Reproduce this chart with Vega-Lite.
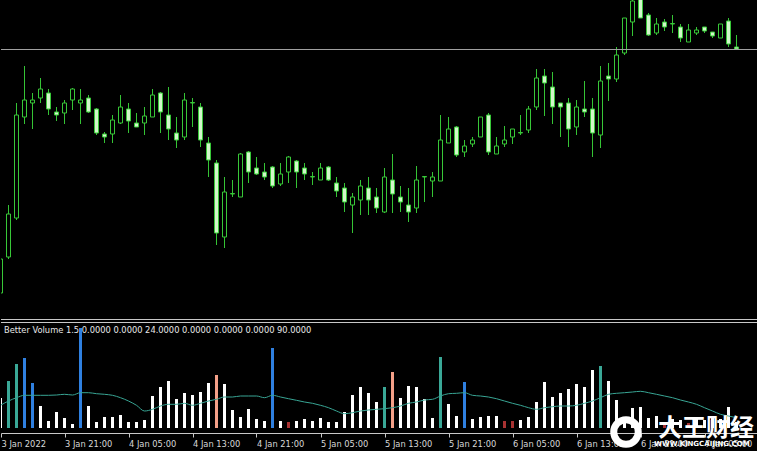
{
  "$schema": "https://vega.github.io/schema/vega-lite/v6.json",
  "background": "#000000",
  "padding": 0,
  "spacing": 1,
  "config": {"view": {"stroke": null}, "axisY": {"disable": true}, "scale": {"continuousPadding": 0}},
  "data": {"values": [
      {"t":"2022-01-03T13:00:00Z","o":27,"h":65,"l":24,"c":61,"v":30,"ma":22.7,"k":"w"},
      {"t":"2022-01-03T14:00:00Z","o":63,"h":115,"l":61,"c":106,"v":47,"ma":27,"k":"t"},
      {"t":"2022-01-03T15:00:00Z","o":102,"h":217,"l":100,"c":205,"v":64,"ma":30.3,"k":"t"},
      {"t":"2022-01-03T16:00:00Z","o":203,"h":254,"l":196,"c":220,"v":70,"ma":32.7,"k":"b"},
      {"t":"2022-01-03T17:00:00Z","o":217,"h":227,"l":191,"c":220,"v":45,"ma":32.7,"k":"b"},
      {"t":"2022-01-03T18:00:00Z","o":222,"h":242,"l":217,"c":231,"v":22,"ma":32.7,"k":"w"},
      {"t":"2022-01-03T19:00:00Z","o":227,"h":231,"l":205,"c":211,"v":7,"ma":32.7,"k":"w"},
      {"t":"2022-01-03T20:00:00Z","o":208,"h":213,"l":199,"c":205,"v":16,"ma":33,"k":"w"},
      {"t":"2022-01-03T21:00:00Z","o":207,"h":220,"l":196,"c":217,"v":10,"ma":33.7,"k":"w"},
      {"t":"2022-01-03T22:00:00Z","o":220,"h":232,"l":210,"c":231,"v":4,"ma":33,"k":"w"},
      {"t":"2022-01-03T23:00:00Z","o":217,"h":231,"l":196,"c":220,"v":100,"ma":35.3,"k":"b"},
      {"t":"2022-01-04T00:00:00Z","o":222,"h":225,"l":207,"c":208,"v":22,"ma":35.3,"k":"w"},
      {"t":"2022-01-04T01:00:00Z","o":211,"h":212,"l":185,"c":187,"v":6,"ma":34.3,"k":"w"},
      {"t":"2022-01-04T02:00:00Z","o":186,"h":188,"l":177,"c":183,"v":11,"ma":33.7,"k":"w"},
      {"t":"2022-01-04T03:00:00Z","o":186,"h":205,"l":177,"c":200,"v":11,"ma":32.7,"k":"w"},
      {"t":"2022-01-04T04:00:00Z","o":197,"h":225,"l":196,"c":213,"v":13,"ma":30.3,"k":"w"},
      {"t":"2022-01-04T05:00:00Z","o":211,"h":217,"l":187,"c":199,"v":6,"ma":27,"k":"w"},
      {"t":"2022-01-04T06:00:00Z","o":197,"h":207,"l":193,"c":193,"v":6,"ma":22.7,"k":"w"},
      {"t":"2022-01-04T07:00:00Z","o":197,"h":213,"l":185,"c":204,"v":8,"ma":17,"k":"w"},
      {"t":"2022-01-04T08:00:00Z","o":203,"h":231,"l":203,"c":225,"v":32,"ma":18.7,"k":"w"},
      {"t":"2022-01-04T09:00:00Z","o":227,"h":228,"l":187,"c":208,"v":41,"ma":22,"k":"w"},
      {"t":"2022-01-04T10:00:00Z","o":205,"h":233,"l":180,"c":191,"v":47,"ma":23.7,"k":"w"},
      {"t":"2022-01-04T11:00:00Z","o":187,"h":203,"l":172,"c":180,"v":29,"ma":23.7,"k":"w"},
      {"t":"2022-01-04T12:00:00Z","o":183,"h":227,"l":180,"c":220,"v":35,"ma":24.7,"k":"w"},
      {"t":"2022-01-04T13:00:00Z","o":217,"h":222,"l":193,"c":217.5,"v":33,"ma":22.7,"k":"w"},
      {"t":"2022-01-04T14:00:00Z","o":213,"h":217,"l":173,"c":180,"v":36,"ma":24.7,"k":"w"},
      {"t":"2022-01-04T15:00:00Z","o":177,"h":183,"l":143,"c":160,"v":45,"ma":27,"k":"w"},
      {"t":"2022-01-04T16:00:00Z","o":157,"h":160,"l":75,"c":87,"v":53,"ma":28.7,"k":"s"},
      {"t":"2022-01-04T17:00:00Z","o":83,"h":143,"l":72,"c":128,"v":44,"ma":31,"k":"w"},
      {"t":"2022-01-04T18:00:00Z","o":126,"h":140,"l":123,"c":126.5,"v":18,"ma":31,"k":"w"},
      {"t":"2022-01-04T19:00:00Z","o":123,"h":167,"l":123,"c":166,"v":11,"ma":32,"k":"w"},
      {"t":"2022-01-04T20:00:00Z","o":168,"h":169,"l":137,"c":148,"v":19,"ma":32,"k":"w"},
      {"t":"2022-01-04T21:00:00Z","o":152,"h":163,"l":145,"c":146,"v":9,"ma":32,"k":"w"},
      {"t":"2022-01-04T22:00:00Z","o":148,"h":157,"l":140,"c":143,"v":7,"ma":30.3,"k":"w"},
      {"t":"2022-01-04T23:00:00Z","o":153,"h":154,"l":132,"c":134,"v":80,"ma":32.7,"k":"b"},
      {"t":"2022-01-05T00:00:00Z","o":136,"h":157,"l":134,"c":146,"v":7,"ma":31,"k":"w"},
      {"t":"2022-01-05T01:00:00Z","o":148,"h":164,"l":137,"c":163,"v":6,"ma":29.3,"k":"r"},
      {"t":"2022-01-05T02:00:00Z","o":159,"h":160,"l":132,"c":148,"v":7,"ma":27.7,"k":"w"},
      {"t":"2022-01-05T03:00:00Z","o":152,"h":157,"l":140,"c":146,"v":9,"ma":26,"k":"w"},
      {"t":"2022-01-05T04:00:00Z","o":143,"h":148,"l":135,"c":143.5,"v":7,"ma":24.7,"k":"w"},
      {"t":"2022-01-05T05:00:00Z","o":140,"h":157,"l":140,"c":152,"v":10,"ma":22.7,"k":"w"},
      {"t":"2022-01-05T06:00:00Z","o":153,"h":154,"l":139,"c":140,"v":6,"ma":20.3,"k":"w"},
      {"t":"2022-01-05T07:00:00Z","o":137,"h":143,"l":123,"c":129,"v":6,"ma":17,"k":"w"},
      {"t":"2022-01-05T08:00:00Z","o":132,"h":137,"l":108,"c":118,"v":16,"ma":14.3,"k":"w"},
      {"t":"2022-01-05T09:00:00Z","o":115,"h":127,"l":87,"c":123,"v":33,"ma":15.3,"k":"w"},
      {"t":"2022-01-05T10:00:00Z","o":120,"h":140,"l":105,"c":134,"v":41,"ma":17,"k":"w"},
      {"t":"2022-01-05T11:00:00Z","o":132,"h":143,"l":105,"c":120,"v":35,"ma":18,"k":"w"},
      {"t":"2022-01-05T12:00:00Z","o":123,"h":132,"l":107,"c":112,"v":26,"ma":18.7,"k":"w"},
      {"t":"2022-01-05T13:00:00Z","o":108,"h":152,"l":107,"c":143,"v":41,"ma":19.3,"k":"t"},
      {"t":"2022-01-05T14:00:00Z","o":140,"h":166,"l":107,"c":126,"v":56,"ma":20.3,"k":"s"},
      {"t":"2022-01-05T15:00:00Z","o":123,"h":134,"l":108,"c":118,"v":30,"ma":22,"k":"w"},
      {"t":"2022-01-05T16:00:00Z","o":115,"h":132,"l":98,"c":108,"v":42,"ma":24.7,"k":"w"},
      {"t":"2022-01-05T17:00:00Z","o":112,"h":154,"l":107,"c":140,"v":41,"ma":26,"k":"w"},
      {"t":"2022-01-05T18:00:00Z","o":143,"h":143.5,"l":118,"c":143.5,"v":29,"ma":28,"k":"w"},
      {"t":"2022-01-05T19:00:00Z","o":139,"h":148,"l":123,"c":143,"v":10,"ma":28.7,"k":"w"},
      {"t":"2022-01-05T20:00:00Z","o":139,"h":205,"l":139,"c":180,"v":71,"ma":32,"k":"t"},
      {"t":"2022-01-05T21:00:00Z","o":177,"h":203,"l":177,"c":191,"v":24,"ma":34.3,"k":"w"},
      {"t":"2022-01-05T22:00:00Z","o":193,"h":194,"l":163,"c":165,"v":12,"ma":34.7,"k":"w"},
      {"t":"2022-01-05T23:00:00Z","o":168,"h":180,"l":163,"c":174,"v":46,"ma":35.3,"k":"b"},
      {"t":"2022-01-06T00:00:00Z","o":176,"h":183,"l":173,"c":180,"v":9,"ma":32.7,"k":"w"},
      {"t":"2022-01-06T01:00:00Z","o":183,"h":203,"l":183,"c":203,"v":11,"ma":32,"k":"w"},
      {"t":"2022-01-06T02:00:00Z","o":205,"h":207,"l":165,"c":168,"v":12,"ma":31,"k":"w"},
      {"t":"2022-01-06T03:00:00Z","o":166,"h":183,"l":166,"c":174,"v":12,"ma":29.3,"k":"w"},
      {"t":"2022-01-06T04:00:00Z","o":176,"h":194,"l":173,"c":180,"v":7,"ma":27,"k":"r"},
      {"t":"2022-01-06T05:00:00Z","o":183,"h":191,"l":176,"c":191,"v":7,"ma":24.7,"k":"r"},
      {"t":"2022-01-06T06:00:00Z","o":187,"h":205,"l":185,"c":187.5,"v":8,"ma":22.7,"k":"w"},
      {"t":"2022-01-06T07:00:00Z","o":190,"h":214,"l":187,"c":211,"v":11,"ma":20.3,"k":"w"},
      {"t":"2022-01-06T08:00:00Z","o":213,"h":251,"l":210,"c":242,"v":26,"ma":18.7,"k":"w"},
      {"t":"2022-01-06T09:00:00Z","o":244,"h":251,"l":204,"c":237,"v":46,"ma":20.3,"k":"w"},
      {"t":"2022-01-06T10:00:00Z","o":233,"h":248,"l":196,"c":213,"v":31,"ma":21.3,"k":"w"},
      {"t":"2022-01-06T11:00:00Z","o":217,"h":217,"l":183,"c":213,"v":35,"ma":22,"k":"w"},
      {"t":"2022-01-06T12:00:00Z","o":217,"h":222,"l":173,"c":191,"v":39,"ma":22,"k":"w"},
      {"t":"2022-01-06T13:00:00Z","o":193,"h":220,"l":185,"c":213,"v":44,"ma":22.7,"k":"w"},
      {"t":"2022-01-06T14:00:00Z","o":211,"h":239,"l":203,"c":208,"v":41,"ma":24.7,"k":"w"},
      {"t":"2022-01-06T15:00:00Z","o":211,"h":222,"l":163,"c":187,"v":58,"ma":27,"k":"w"},
      {"t":"2022-01-06T16:00:00Z","o":185,"h":254,"l":172,"c":239,"v":62,"ma":30.3,"k":"t"},
      {"t":"2022-01-06T17:00:00Z","o":244,"h":257,"l":219,"c":241,"v":47,"ma":33.7,"k":"w"},
      {"t":"2022-01-06T18:00:00Z","o":241,"h":273,"l":238,"c":265,"v":28,"ma":34.7,"k":"w"},
      {"t":"2022-01-06T19:00:00Z","o":267,"h":302,"l":265,"c":302,"v":9,"ma":35.3,"k":"w"},
      {"t":"2022-01-06T20:00:00Z","o":298,"h":323,"l":284,"c":319,"v":20,"ma":36,"k":"w"},
      {"t":"2022-01-06T21:00:00Z","o":322,"h":325,"l":302,"c":302,"v":21,"ma":36.7,"k":"w"},
      {"t":"2022-01-06T22:00:00Z","o":305,"h":307,"l":284,"c":285,"v":10,"ma":35.3,"k":"w"},
      {"t":"2022-01-06T23:00:00Z","o":287,"h":302,"l":285,"c":296,"v":12,"ma":33.7,"k":"w"},
      {"t":"2022-01-07T00:00:00Z","o":298,"h":301,"l":289,"c":293,"v":5,"ma":32,"k":"r"},
      {"t":"2022-01-07T01:00:00Z","o":296,"h":305,"l":287,"c":296.5,"v":9,"ma":30.3,"k":"w"},
      {"t":"2022-01-07T02:00:00Z","o":293,"h":296,"l":278,"c":282,"v":8,"ma":28,"k":"w"},
      {"t":"2022-01-07T03:00:00Z","o":278,"h":296,"l":278,"c":290,"v":5,"ma":26,"k":"r"},
      {"t":"2022-01-07T04:00:00Z","o":287,"h":293,"l":285,"c":290,"v":10,"ma":23.7,"k":"w"},
      {"t":"2022-01-07T05:00:00Z","o":293,"h":293,"l":287,"c":289,"v":8,"ma":20.3,"k":"w"},
      {"t":"2022-01-07T06:00:00Z","o":288,"h":288,"l":282,"c":284,"v":12,"ma":17,"k":"w"},
      {"t":"2022-01-07T07:00:00Z","o":282,"h":296,"l":282,"c":296,"v":9,"ma":13.7,"k":"w"},
      {"t":"2022-01-07T08:00:00Z","o":299,"h":302,"l":273,"c":276,"v":21,"ma":12,"k":"w"},
      {"t":"2022-01-07T09:00:00Z","o":273,"h":285,"l":271,"c":271,"v":6,"ma":10.3,"k":"w"}
  ]},
  "vconcat": [
    {
      "width": 757,
      "height": 320,
      "layer": [
        {
          "mark": {"type": "rule", "color": "#35c435", "strokeWidth": 1, "clip": true},
          "encoding": {
            "x": {"field": "t", "type": "temporal", "scale": {"domain": [1641215025000, 1641555675000], "nice": false, "padding": 0}, "axis": null},
            "y": {"field": "l", "type": "quantitative", "scale": {"domain": [0, 320], "nice": false, "zero": false}, "axis": null},
            "y2": {"field": "h"}
          }
        },
        {
          "transform": [{"filter": "datum.c >= datum.o"}],
          "mark": {"type": "bar", "size": 4, "fill": "#000000", "stroke": "#38c838", "strokeWidth": 1, "clip": true},
          "encoding": {
            "x": {"field": "t", "type": "temporal", "axis": null},
            "y": {"field": "o", "type": "quantitative", "axis": null},
            "y2": {"field": "c"}
          }
        },
        {
          "transform": [{"filter": "datum.c < datum.o"}],
          "mark": {"type": "bar", "size": 4, "fill": "#d2f7ca", "stroke": "#38c838", "strokeWidth": 1, "clip": true},
          "encoding": {
            "x": {"field": "t", "type": "temporal", "axis": null},
            "y": {"field": "o", "type": "quantitative", "axis": null},
            "y2": {"field": "c"}
          }
        },
        {
          "data": {"values": [{"p": 270.5, "kind": "bid"}]},
          "mark": {"type": "rule", "color": "#a0a0a0", "strokeWidth": 1},
          "encoding": {"y": {"field": "p", "type": "quantitative", "axis": null}}
        },
        {
          "data": {"values": [{"p": 0.5, "kind": "border"}]},
          "mark": {"type": "rule", "color": "#c8c8c8", "strokeWidth": 1},
          "encoding": {"y": {"field": "p", "type": "quantitative", "axis": null}}
        }
      ]
    },
    {
      "width": 757,
      "height": 111,
      "layer": [
        {
          "mark": {"type": "bar", "size": 3, "clip": true},
          "encoding": {
            "x": {
              "field": "t", "type": "temporal",
              "scale": {"domain": [1641215025000, 1641555675000], "nice": false, "padding": 0},
              "axis": {
                "values": [1641215025000, 1641243600000, 1641272400000, 1641301200000, 1641330000000, 1641358800000, 1641387600000, 1641416400000, 1641445200000, 1641474000000, 1641502800000, 1641531600000],
                "labelExpr": "datum.value < 1641216000000 ? '3 Jan 2022' : utcFormat(datum.value, '%-d %b %H:%M')",
                "title": null, "grid": false,
                "domainColor": "#c8c8c8", "tickColor": "#c8c8c8", "tickSize": 4,
                "labelColor": "#d8d8d8", "labelFont": "DejaVu Sans", "labelFontSize": 8.3,
                "labelAlign": "left", "labelPadding": 2, "labelFlush": false, "labelOverlap": false
              }
            },
            "y": {"field": "v", "type": "quantitative", "stack": null, "scale": {"domain": [-5, 106], "nice": false, "zero": false}, "axis": null},
            "color": {"field": "k", "type": "nominal", "scale": {"domain": ["w", "t", "b", "s", "r"], "range": ["#ffffff", "#3aa897", "#2f80e0", "#f4a088", "#a83232"]}, "legend": null}
          }
        },
        {
          "mark": {"type": "line", "color": "#38a594", "strokeWidth": 1, "interpolate": "monotone", "clip": true},
          "encoding": {
            "x": {"field": "t", "type": "temporal"},
            "y": {"field": "ma", "type": "quantitative", "axis": null}
          }
        },
        {
          "data": {"values": [{"v": 105.5, "kind": "border"}]},
          "mark": {"type": "rule", "color": "#c8c8c8", "strokeWidth": 1},
          "encoding": {"y": {"field": "v", "type": "quantitative", "axis": null}}
        },
        {
          "data": {"values": [{"t": 1641216375000, "v": 97, "label": "Better Volume 1.5 0.0000 0.0000 24.0000 0.0000 0.0000 0.0000 90.0000"}]},
          "mark": {"type": "text", "align": "left", "baseline": "middle", "font": "DejaVu Sans", "fontSize": 8.3, "color": "#e8e8e8"},
          "encoding": {
            "x": {"field": "t", "type": "temporal"},
            "y": {"field": "v", "type": "quantitative", "axis": null},
            "text": {"field": "label"}
          }
        },
        {
          "data": {"values": [{"t": 1641496275000, "v": -4}]},
          "mark": {"type": "point", "shape": "circle", "size": 600, "filled": false, "stroke": "#ffffff", "strokeWidth": 7, "opacity": 1},
          "encoding": {
            "x": {"field": "t", "type": "temporal"},
            "y": {"field": "v", "type": "quantitative", "axis": null}
          }
        },
        {
          "data": {"values": [{"t": 1641532320000, "v": -1, "label": "大王财经"}]},
          "mark": {"type": "text", "align": "center", "baseline": "middle", "font": "Noto Sans CJK SC", "fontSize": 24, "fontWeight": "bold", "color": "#ffffff"},
          "encoding": {
            "x": {"field": "t", "type": "temporal"},
            "y": {"field": "v", "type": "quantitative", "axis": null},
            "text": {"field": "label"}
          }
        },
        {
          "data": {"values": [{"t": 1641530475000, "v": -16, "label": "WWW.KINGCAIJING.COM"}]},
          "mark": {"type": "text", "align": "center", "baseline": "middle", "font": "DejaVu Sans", "fontSize": 7, "fontWeight": "bold", "color": "#ffffff"},
          "encoding": {
            "x": {"field": "t", "type": "temporal"},
            "y": {"field": "v", "type": "quantitative", "axis": null},
            "text": {"field": "label"}
          }
        }
      ]
    }
  ]
}
